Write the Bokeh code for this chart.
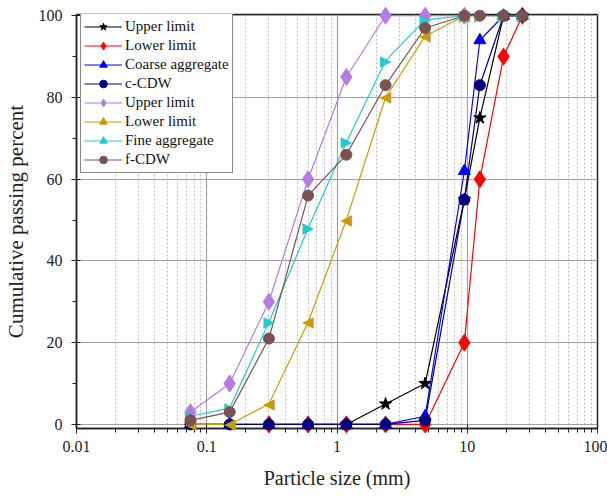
import math
from bokeh.plotting import figure
from bokeh.models import (Range1d, FixedTicker, Legend, LegendItem, ColumnDataSource)
from bokeh.core.properties import value
from bokeh.embed import file_html
from bokeh.resources import INLINE

# Sieve sizes (mm)
sizes = [0.075, 0.15, 0.3, 0.6, 1.18, 2.36, 4.75, 9.5, 12.5, 19, 26.5]

# Coarse series
upper_c_x = [1.18, 2.36, 4.75, 9.5, 12.5, 19, 26.5]
upper_c_y = [0, 5, 10, 55, 75, 100, 100]
lower_c_x = [0.3, 0.6, 1.18, 2.36, 4.75, 9.5, 12.5, 19, 26.5]
lower_c_y = [0, 0, 0, 0, 0, 20, 60, 90, 100]
coarse_x = [0.075, 0.15, 0.3, 0.6, 1.18, 2.36, 4.75, 9.5, 12.5, 19, 26.5]
coarse_y = [0, 0, 0, 0, 0, 0, 2, 62, 94, 100, 100]
ccdw_x = [0.075, 0.15, 0.3, 0.6, 1.18, 2.36, 4.75, 9.5, 12.5, 19, 26.5]
ccdw_y = [0, 0, 0, 0, 0, 0, 1, 55, 83, 100, 100]

# Fine series
upper_f_x = [0.075, 0.15, 0.3, 0.6, 1.18, 2.36, 4.75, 9.5]
upper_f_y = [3, 10, 30, 60, 85, 100, 100, 100]
lower_f_x = [0.075, 0.15, 0.3, 0.6, 1.18, 2.36, 4.75, 9.5]
lower_f_y = [0, 0, 5, 25, 50, 80, 95, 100]
fine_x = [0.075, 0.15, 0.3, 0.6, 1.18, 2.36, 4.75, 9.5, 12.5, 19, 26.5]
fine_y = [2, 4, 25, 48, 69, 89, 99, 100, 100, 100, 100]
fcdw_x = [0.075, 0.15, 0.3, 0.6, 1.18, 2.36, 4.75, 9.5, 12.5, 19, 26.5]
fcdw_y = [1, 3, 21, 56, 66, 83, 97, 100, 100, 100, 100]

labels = ["Upper limit", "Lower limit", "Coarse aggregate", "c-CDW",
          "Upper limit", "Lower limit", "Fine aggregate", "f-CDW"]

x_major = [0.01, 0.1, 1, 10, 100]
x_major_labels = ["0.01", "0.1", "1", "10", "100"]
y_major = [0, 20, 40, 60, 80, 100]
y_minor = [10, 30, 50, 70, 90]

FONT = "Liberation Serif"
FRAME_H = 414

p = figure(width=607, height=497, x_axis_type="log",
           x_range=Range1d(0.01, 100), y_range=Range1d(-1, 100.3),
           output_backend="svg", toolbar_location=None,
           min_border_left=73, min_border_right=10, min_border_top=14, min_border_bottom=69)

minor = []
for d in [0.01, 0.1, 1, 10]:
    for k in range(2, 10):
        minor.append(d * k)

p.xaxis.ticker = FixedTicker(ticks=x_major, minor_ticks=minor)
p.xaxis.major_label_overrides = {t: l for t, l in zip(x_major, x_major_labels)}
p.yaxis.ticker = FixedTicker(ticks=y_major, minor_ticks=y_minor)

p.outline_line_color = "#222222"
p.outline_line_width = 1.5

for ax in (p.xaxis, p.yaxis):
    ax.axis_line_color = "#222222"
    ax.axis_line_width = 1.5
    ax.major_tick_line_color = "#222222"
    ax.minor_tick_line_color = "#222222"
    ax.major_tick_out = 5
    ax.major_tick_in = 4
    ax.minor_tick_out = 4
    ax.minor_tick_in = 0
    ax.major_label_text_font = FONT
    ax.major_label_text_font_size = "16px"
    ax.major_label_text_color = "#222222"
    ax.axis_label_text_font = FONT
    ax.axis_label_text_font_style = "normal"
    ax.axis_label_text_color = "#222222"
    ax.axis_label_text_font_size = "20px"

p.xaxis.axis_label = "Particle size (mm)"
p.xaxis.axis_label_standoff = 12
p.xaxis.major_label_standoff = 7
p.yaxis.axis_label = "Cumulative passing percent"
p.yaxis.axis_label_text_font_size = "21px"
p.yaxis.axis_label_standoff = 8
p.yaxis.major_label_standoff = 9

p.xgrid.grid_line_color = "#a0a0a0"
p.xgrid.grid_line_width = 1.2
p.xgrid.minor_grid_line_color = "#bdbdbd"
p.xgrid.minor_grid_line_dash = "2 2"
p.xgrid.minor_grid_line_width = 1
p.ygrid.grid_line_color = "#a0a0a0"
p.ygrid.grid_line_width = 1.2

# (x, y, colour, marker, size, legend angle); "txt:" markers are drawn as text glyphs
series = [
    (upper_c_x, upper_c_y, "#000000", "star", 13, 0.0),
    (lower_c_x, lower_c_y, "#ff0000", "diamond", 17, 0.0),
    (coarse_x, coarse_y, "#0000ff", "triangle", 12, 0.0),
    (ccdw_x, ccdw_y, "#000080", "circle", 11, 0.0),
    (upper_f_x, upper_f_y, "#b47be0", "diamond", 17, 0.0),
    (lower_f_x, lower_f_y, "#cc9a06", "txt:\u25C0", 15, math.pi / 2),
    (fine_x, fine_y, "#22cccc", "txt:\u25B6", 15, -math.pi / 2),
    (fcdw_x, fcdw_y, "#7a5252", "circle", 11, 0.0),
]

items = []
for (xs, ys, col, mk, sz, ang), lab in zip(series, labels):
    src = ColumnDataSource(dict(x=xs, y=ys))
    ln = p.line("x", "y", source=src, line_color=col, line_width=1.2)
    if mk.startswith("txt:"):
        p.text("x", "y", source=src, text=value(mk[4:]), text_color=col,
               text_font=value("DejaVu Sans"), text_font_size=value(f"{sz}px"),
               text_align="center", text_baseline="middle", level="overlay")
        # legend-only marker: a single undrawn (NaN) point so the legend has a row to style from
        leg_src = ColumnDataSource(dict(x=[float("nan")], y=[float("nan")], a=[ang]))
        sc = p.scatter("x", "y", source=leg_src, marker="triangle", size=11, angle="a",
                       fill_color=col, line_color=col)
    else:
        sc = p.scatter("x", "y", source=src, marker=mk, size=sz,
                       fill_color=col, line_color=col, level="overlay")
    items.append(LegendItem(label=lab, renderers=[ln, sc]))

legend = Legend(items=items, location=(4, FRAME_H - 1 - 158))
legend.label_text_font = FONT
legend.label_text_font_size = "15px"
legend.label_text_color = "#111111"
legend.border_line_color = "#111111"
legend.border_line_width = 1.2
legend.background_fill_alpha = 1
legend.glyph_width = 38
legend.glyph_height = 19
legend.label_height = 19
legend.label_standoff = 3
legend.spacing = 0
legend.padding = 3
legend.margin = 0
p.add_layout(legend)

open("out.html", "w").write(file_html(p, INLINE))
